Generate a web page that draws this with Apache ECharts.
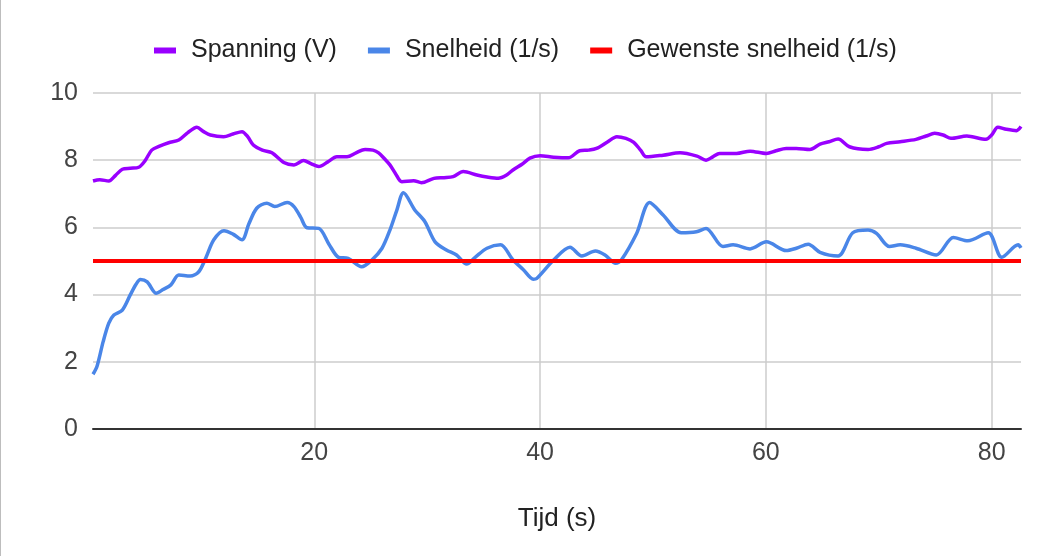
<!DOCTYPE html>
<html>
<head>
<meta charset="utf-8">
<script src="https://cdn.jsdelivr.net/npm/echarts@6/dist/echarts.min.js"></script>
<style>
html,body{margin:0;padding:0;background:#fff;}
#chart{width:1041px;height:556px;box-sizing:border-box;border-left:1px solid #bdbdbd;}
</style>
</head>
<body>
<div id="chart"></div>
<script>
const seriesNames = ['Spanning (V)', 'Snelheid (1/s)', 'Gewenste snelheid (1/s)'];
const xTicks = [20, 40, 60, 80];
const yTicks = [0, 2, 4, 6, 8, 10];

const spanningT = [0.4,1.0,1.8,2.4,3.0,3.7,4.45,5.0,5.6,6.3,7.1,8.0,8.8,9.6,10.2,10.8,11.97,12.8,13.6,14.1,14.6,15.4,16.25,17.3,18.2,19.05,19.7,20.4,21.2,22.0,22.9,23.7,24.5,25.2,25.7,26.2,26.7,27.2,27.75,28.8,29.5,30.6,31.5,32.3,33.2,34.4,35.3,36.3,37.0,37.6,38.4,39.1,40.0,41.2,42.5,43.5,44.3,45.0,46.0,46.8,47.6,48.3,48.9,49.4,50.9,52.4,53.9,54.7,55.3,55.9,57.4,58.6,60.05,60.9,61.8,62.7,63.9,64.8,65.6,66.4,67.4,69.05,70.0,70.7,71.9,73.3,74.2,74.95,75.7,76.4,77.8,79.5,80.0,80.55,81.3,82.2,82.6];
const spanningV = [7.38,7.42,7.38,7.55,7.73,7.76,7.79,7.98,8.30,8.42,8.52,8.6,8.82,8.98,8.85,8.75,8.70,8.78,8.85,8.7,8.45,8.3,8.22,7.93,7.86,7.99,7.9,7.81,7.95,8.1,8.1,8.22,8.32,8.3,8.22,8.05,7.86,7.6,7.36,7.39,7.33,7.46,7.48,7.51,7.66,7.56,7.5,7.46,7.55,7.71,7.88,8.06,8.13,8.09,8.07,8.28,8.3,8.35,8.55,8.70,8.65,8.53,8.3,8.10,8.15,8.22,8.12,8.0,8.1,8.2,8.2,8.27,8.2,8.28,8.35,8.35,8.32,8.48,8.55,8.63,8.40,8.32,8.4,8.50,8.55,8.62,8.72,8.80,8.75,8.65,8.72,8.62,8.75,8.98,8.92,8.88,9.0];

const snelheidT = [0.4,0.75,1.3,1.8,2.25,3.0,3.7,4.2,4.6,5.2,6.0,6.6,7.3,8.0,9.0,9.77,10.4,11.1,12.0,12.8,13.6,14.2,14.9,15.8,16.5,17.6,18.2,18.8,19.35,20.4,21.3,22.15,23.0,24.2,25.1,26.0,26.7,27.3,27.9,28.9,29.8,30.7,31.7,32.6,33.5,34.25,35.3,36.5,37.6,38.5,39.4,39.7,41.2,42.65,43.7,44.9,45.75,46.7,47.2,48.55,49.7,50.9,52.5,53.85,54.7,56.2,57.1,58.6,60.05,61.8,62.7,63.75,64.8,66.4,67.7,69.05,69.8,70.95,71.9,73.3,75.1,76.6,77.9,79.7,80.9,82.35,82.6];
const snelheidV = [1.63,1.86,2.6,3.15,3.39,3.54,3.99,4.3,4.45,4.38,4.04,4.15,4.29,4.58,4.55,4.68,5.1,5.63,5.9,5.8,5.63,6.1,6.57,6.72,6.62,6.74,6.62,6.3,5.99,5.97,5.5,5.11,5.08,4.83,5.03,5.38,5.92,6.5,7.03,6.52,6.17,5.57,5.33,5.18,4.91,5.11,5.38,5.48,5.03,4.75,4.46,4.48,5.03,5.41,5.15,5.30,5.18,4.93,5.03,5.82,6.74,6.37,5.84,5.87,5.97,5.43,5.48,5.36,5.57,5.31,5.38,5.50,5.26,5.15,5.84,5.92,5.82,5.43,5.48,5.38,5.18,5.70,5.60,5.84,5.11,5.48,5.39];

const gewensteT = [0.4, 82.6];
const gewensteV = [5, 5];

const zip = (t, v) => t.map((x, i) => [x, v[i]]);
const colors = ['#9900ff', '#4a86e8', '#ff0000'];
const font = 'Arial, "Liberation Sans", sans-serif';

const chart = echarts.init(document.getElementById('chart'), null, {renderer: 'canvas'});
chart.setOption({
  animation: false,
  color: colors,
  legend: {
    top: 33,
    left: 148,
    icon: 'rect',
    itemWidth: 22,
    itemHeight: 6,
    itemGap: 31,
    textStyle: {fontFamily: font, fontSize: 25, color: '#222', padding: [0, 0, 0, 10]},
    data: seriesNames
  },
  grid: {left: 92, right: 20, top: 93, bottom: 127, containLabel: false},
  xAxis: {
    type: 'value',
    min: 0.4,
    max: 82.6,
    name: 'Tijd (s)',
    nameLocation: 'middle',
    nameGap: 77,
    nameTextStyle: {fontFamily: font, fontSize: 26, color: '#222'},
    axisLine: {show: true, onZero: false, lineStyle: {color: '#333', width: 2}},
    axisTick: {show: false, customValues: xTicks},
    axisLabel: {customValues: xTicks, fontFamily: font, fontSize: 25, color: '#444', margin: 12},
    splitLine: {show: true, lineStyle: {color: '#cccccc', width: 1.5}}
  },
  yAxis: {
    type: 'value',
    min: 0,
    max: 10,
    interval: 2,
    axisLine: {show: false},
    axisTick: {show: false},
    axisLabel: {fontFamily: font, fontSize: 25, color: '#444', margin: 15},
    splitLine: {show: true, lineStyle: {color: '#cccccc', width: 1.5}}
  },
  series: [
    {name: seriesNames[0], type: 'line', data: zip(spanningT, spanningV), showSymbol: false, smooth: 0.3, lineStyle: {width: 3.5}},
    {name: seriesNames[1], type: 'line', data: zip(snelheidT, snelheidV), showSymbol: false, smooth: 0.3, lineStyle: {width: 3.5}},
    {name: seriesNames[2], type: 'line', data: zip(gewensteT, gewensteV), showSymbol: false, lineStyle: {width: 4}}
  ]
});
</script>
</body>
</html>
